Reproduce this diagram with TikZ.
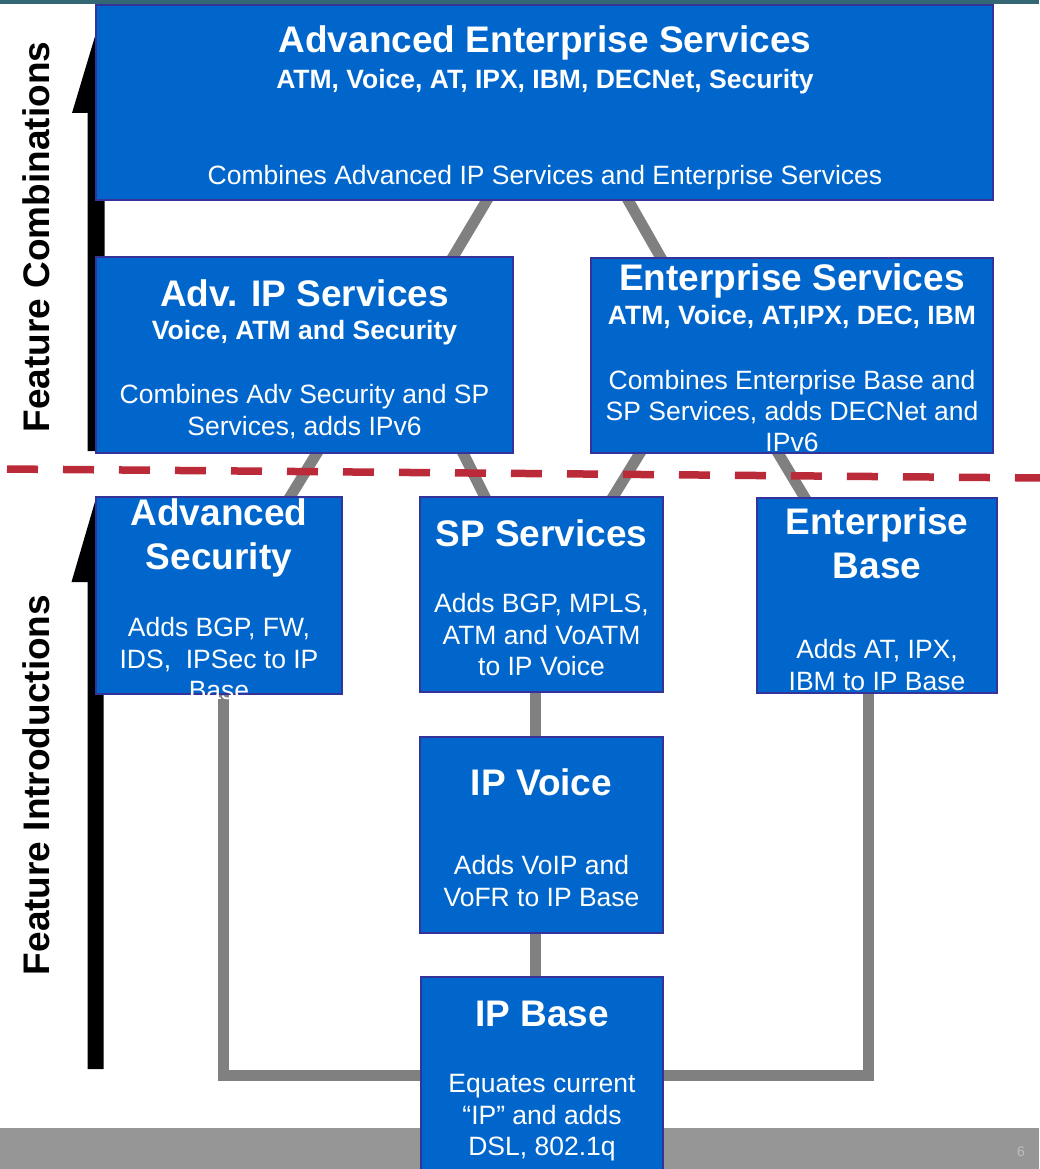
\documentclass[tikz,border=0pt]{standalone}
\usepackage{fontspec}
\setmainfont{Liberation Sans}
\usetikzlibrary{calc}
\definecolor{boxblue}{RGB}{0,102,204}
\definecolor{boxedge}{RGB}{51,51,153}
\definecolor{conngray}{RGB}{128,128,128}
\definecolor{dashred}{RGB}{187,42,56}
\definecolor{topteal}{RGB}{52,103,116}
\definecolor{stripgray}{RGB}{150,150,150}
\definecolor{pagenum}{RGB}{190,190,190}
\tikzset{
  box/.style={draw=boxedge, fill=boxblue, line width=1.2pt, inner sep=0pt, outer sep=0pt, rectangle},
  conn/.style={draw=conngray, line width=11pt, shorten <=-3pt, shorten >=-3pt},
  elbow/.style={draw=conngray, line width=11pt, line join=miter, shorten <=-3pt},
  head/.style={text=white, font=\fontsize{37}{44}\selectfont\bfseries, align=center, anchor=base, inner sep=0pt},
  subt/.style={text=white, font=\fontsize{26.5}{31.5}\selectfont\bfseries, align=center, anchor=base, inner sep=0pt},
  desc/.style={text=white, font=\fontsize{26.5}{31.5}\selectfont, align=center, anchor=base, inner sep=0pt},
  side/.style={font=\fontsize{37}{44}\selectfont\bfseries, rotate=90, inner sep=0pt},
}
\begin{document}
\begin{tikzpicture}[x=1pt,y=-1pt]
\useasboundingbox (0,0) rectangle (1039,1169);
% strips
\fill[topteal] (0,0) rectangle (1039,4.5);
\fill[stripgray] (0,1128) rectangle (1039,1169);
\node[text=pagenum, font=\fontsize{14}{16}\selectfont, anchor=base] (pnum) at (1021,1156) {6};
% side arrows
\fill[black] (96,33) -- (120,113) -- (104.5,113) -- (104.5,451) -- (87.5,451) -- (87.5,113) -- (72,113) -- cycle;
\fill[black] (95.5,500) -- (119.5,582) -- (103.5,582) -- (103.5,1069) -- (87.5,1069) -- (87.5,582) -- (71.5,582) -- cycle;
\node[side] (lblcomb) at (36,237) {Feature Combinations};
\node[side] (lblintro) at (36,785) {Feature Introductions};
% box nodes (placed first as coordinates for connectors)
\path
  node[minimum width=897pt, minimum height=195pt, inner sep=0pt, outer sep=0pt] (aes) at (544.5,102.5) {}
  node[minimum width=417pt, minimum height=196pt, inner sep=0pt, outer sep=0pt] (aip) at (304.5,355) {}
  node[minimum width=402pt, minimum height=195pt, inner sep=0pt, outer sep=0pt] (ent) at (792,355.5) {}
  node[minimum width=246pt, minimum height=197pt, inner sep=0pt, outer sep=0pt] (asec) at (219,595.5) {}
  node[minimum width=243pt, minimum height=195pt, inner sep=0pt, outer sep=0pt] (sp) at (541.5,594.5) {}
  node[minimum width=240pt, minimum height=195pt, inner sep=0pt, outer sep=0pt] (eb) at (877,595.5) {}
  node[minimum width=243pt, minimum height=196pt, inner sep=0pt, outer sep=0pt] (ipv) at (541.5,835) {}
  node[minimum width=242pt, minimum height=200pt, inner sep=0pt, outer sep=0pt] (ipb) at (542,1077) {};
% connectors
\draw[conn] ([xshift=391pt]aes.south west) -- ([xshift=357pt]aip.north west);
\draw[conn] ([xshift=532pt]aes.south west) -- ([xshift=70pt]ent.north west);
\draw[conn] ([xshift=221pt]aip.south west) -- ([xshift=194pt]asec.north west);
\draw[conn] ([xshift=367pt]aip.south west) -- ([xshift=65pt]sp.north west);
\draw[conn] ([xshift=49pt]ent.south west) -- ([xshift=193pt]sp.north west);
\draw[conn] ([xshift=187pt]ent.south west) -- ([xshift=48pt]eb.north west);
\draw[conn] ([xshift=115pt]sp.south west) -- ([xshift=115pt]ipv.north west);
\draw[conn] ([xshift=115pt]ipv.south west) -- ([xshift=114pt]ipb.north west);
\draw[elbow] ([xshift=127pt]asec.south west) |- ([yshift=-98pt]ipb.north west);
\draw[elbow] ([xshift=111pt]eb.south west) |- ([yshift=-98pt]ipb.north east);
% dashed boundary
\draw[dashred, line width=7.5pt, dash pattern=on 31pt off 25pt] (7,469) -- (1045,478);
% boxes
\foreach \b in {aes,aip,ent,asec,sp,eb,ipv,ipb}{
  \draw[box] (\b.north west) rectangle (\b.south east);
}
% texts (anchor = baseline of the last line)
\node[head] (aesT) at (545,53) {Advanced Enterprise Services};
\node[subt] (aesS) at (545,88.5) {ATM, Voice, AT, IPX, IBM, DECNet, Security};
\node[desc] (aesD) at (545,184.5) {Combines Advanced IP Services and Enterprise Services};
\node[head] (aipT) at (304.5,306) {Adv. IP Services};
\node[subt] (aipS) at (304.5,339.5) {Voice, ATM and Security};
\node[desc] (aipD) at (304.5,435) {Combines Adv Security and SP\\Services, adds IPv6};
\node[head] (entT) at (792,290) {Enterprise Services};
\node[subt] (entS) at (792,324.5) {ATM, Voice, AT,IPX, DEC, IBM};
\node[desc, font=\fontsize{26.5}{31}\selectfont] (entD) at (792,451.5) {Combines Enterprise Base and\\SP Services, adds DECNet and\\IPv6};
\node[head] (asecT) at (219,569) {Advanced\\Security};
\node[desc] (asecD) at (219,699.5) {Adds BGP, FW,\\IDS,~~IPSec to IP\\Base};
\node[head] (spT) at (541.5,546) {SP Services};
\node[desc] (spD) at (541.5,675.5) {Adds BGP, MPLS,\\ATM and VoATM\\to IP Voice};
\node[head] (ebT) at (877,578) {Enterprise\\Base};
\node[desc] (ebD) at (877,690) {Adds AT, IPX,\\IBM to IP Base};
\node[head] (ipvT) at (541.5,795) {IP Voice};
\node[desc] (ipvD) at (541.5,906) {Adds VoIP and\\VoFR to IP Base};
\node[head] (ipbT) at (542,1026) {IP Base};
\node[desc] (ipbD) at (542,1155.5) {Equates current\\“IP” and adds\\DSL, 802.1q};
\end{tikzpicture}
\end{document}
